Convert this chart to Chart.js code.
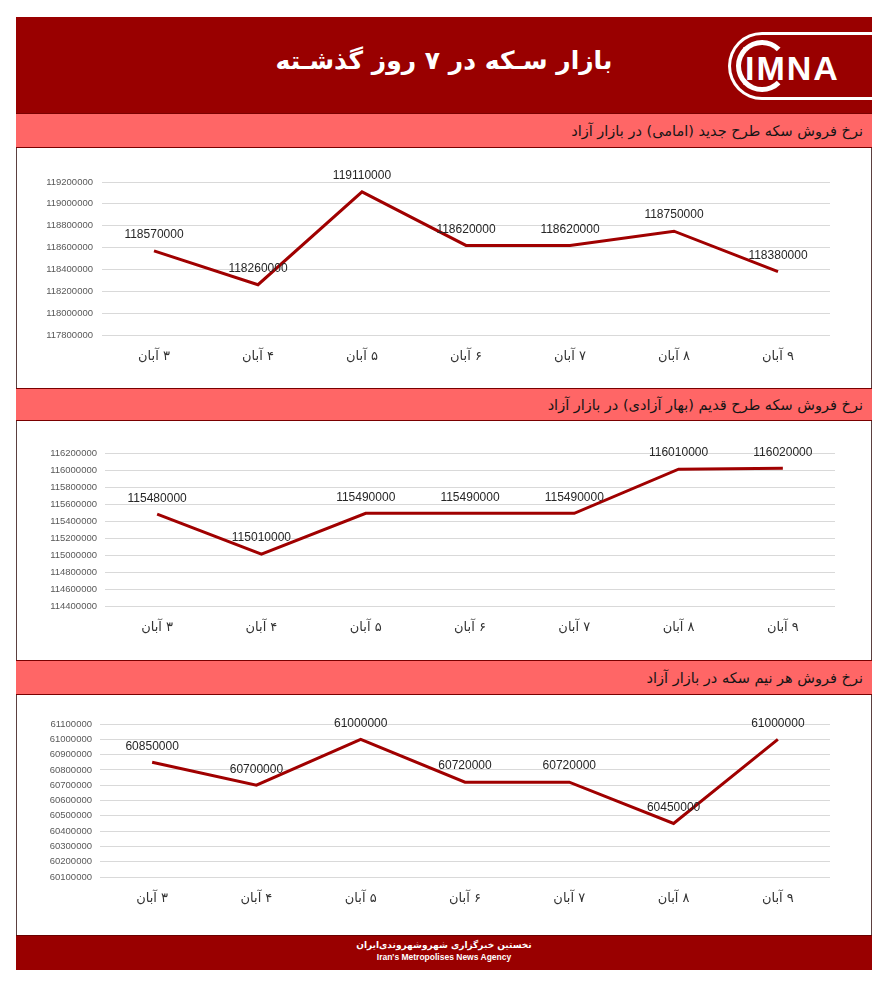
<!DOCTYPE html>
<html lang="fa">
<head>
<meta charset="utf-8">
<title>بازار سکه در ۷ روز گذشته</title>
<script src="https://cdn.jsdelivr.net/npm/chart.js@4/dist/chart.umd.min.js"></script>
<style>
    body { margin: 0; background: #fff; width: 888px; height: 1000px; position: relative; overflow: hidden; font-family: "DejaVu Sans", sans-serif; }
    .box { position: absolute; left: 16px; width: 856px; box-sizing: border-box; }
    .header { top: 17px; height: 96px; background: #990000; }
    .title { position: absolute; left: 0; width: 888px; top: 46px; text-align: center; color: #fff; font-weight: bold; font-size: 25px; direction: rtl; }
    .band { background: #ff6666; border-top: 1px solid #7a0000; border-bottom: 1px solid #7a0000; direction: rtl; font-size: 14.5px; color: #151515; padding-right: 9px; display: flex; align-items: center; }
    .panel { background: #fff; border-left: 1px solid #5b4040; border-right: 1px solid #5b4040; }
    .footer { top: 935px; height: 35px; background: #990000; border-top: 1px solid #6a0000; color: #fff; text-align: center; font-weight: bold; }
    canvas { position: absolute; left: 17px; direction: rtl; }
    .logo { position: absolute; left: 728px; top: 32px; width: 144px; height: 68px; box-sizing: border-box; border: 3px solid #fff; border-right: none; border-radius: 34px 0 0 34px; }
    .logo .ring { position: absolute; left: 5px; top: 5px; width: 52px; height: 52px; border-radius: 50%; box-sizing: border-box; border: 5px solid #fff; border-right-color: transparent; }
    .logo .txt { position: absolute; left: 14px; top: 14px; font-family: "Liberation Sans", sans-serif; font-weight: bold; font-size: 34px; line-height: 38px; color: #fff; letter-spacing: 2px; }
</style>
</head>
<body>
<div class="box header"></div>
<div class="title">بازار سـکه در ۷ روز گذشـته</div>
<div class="logo"><div class="ring"></div><div class="txt">IMNA</div></div>

<div class="box band" style="top:113px;height:35px;">نرخ فروش سکه طرح جدید (امامی) در بازار آزاد</div>
<div class="box panel" style="top:148px;height:240px;"></div>
<div class="box band" style="top:388px;height:33px;">نرخ فروش سکه طرح قدیم (بهار آزادی) در بازار آزاد</div>
<div class="box panel" style="top:421px;height:239px;"></div>
<div class="box band" style="top:660px;height:35px;">نرخ فروش هر نیم سکه در بازار آزاد</div>
<div class="box panel" style="top:695px;height:240px;"></div>
<div class="box footer">
    <div style="font-size:9px;margin-top:4px;direction:rtl;">نخستین خبرگزاری شهروشهروندی‌ایران</div>
    <div style="font-size:8.5px;font-family:'Liberation Sans',sans-serif;margin-top:2px;">Iran's Metropolises News Agency</div>
</div>

<canvas id="c1" width="854" height="240" style="top:148px"></canvas>
<canvas id="c2" width="854" height="239" style="top:421px"></canvas>
<canvas id="c3" width="854" height="240" style="top:695px"></canvas>

<script>
const days = ['۳ آبان', '۴ آبان', '۵ آبان', '۶ آبان', '۷ آبان', '۸ آبان', '۹ آبان'];

// prices (rial)
const emamiPrice = [118570000, 118260000, 119110000, 118620000, 118620000, 118750000, 118380000];
const baharPrice = [115480000, 115010000, 115490000, 115490000, 115490000, 116010000, 116020000];
const halfPrice  = [60850000, 60700000, 61000000, 60720000, 60720000, 60450000, 61000000];

// y axis: min, max, step
const emamiTicks = [117800000, 119200000, 200000];
const baharTicks = [114400000, 116200000, 200000];
const halfTicks  = [60100000, 61100000, 100000];

// draw value above each point
const valueLabels = {
    id: 'valueLabels',
    afterDatasetsDraw(chart) {
        const ctx = chart.ctx;
        const meta = chart.getDatasetMeta(0);
        ctx.save();
        ctx.font = '12px "Liberation Sans", sans-serif';
        ctx.fillStyle = '#262626';
        ctx.textAlign = 'center';
        ctx.textBaseline = 'middle';
        meta.data.forEach((pt, i) => {
            ctx.fillText(String(chart.data.datasets[0].data[i]), pt.x, pt.y - 16);
        });
        ctx.restore();
    }
};

function makeChart(id, values, ticks, box) {
    const canvas = document.getElementById(id);
    return new Chart(canvas.getContext('2d'), {
        type: 'line',
        data: {
            labels: days,
            datasets: [{
                data: values,
                borderColor: '#a00000',
                borderWidth: 3,
                pointRadius: 0,
                tension: 0
            }]
        },
        options: {
            responsive: false,
            animation: false,
            layout: { padding: { top: box.top, right: canvas.width - box.right, left: 0, bottom: 0 } },
            plugins: { legend: { display: false }, tooltip: { enabled: false } },
            scales: {
                x: {
                    offset: true,
                    grid: { display: false, drawTicks: false },
                    border: { display: false },
                    ticks: { color: '#333', font: { family: 'DejaVu Sans', size: 13 }, padding: box.xPad, maxRotation: 0, autoSkip: false },
                    afterFit: s => { s.height = canvas.height - box.bottom; }
                },
                y: {
                    min: ticks[0],
                    max: ticks[1],
                    grid: { color: '#d9d9d9', lineWidth: 1, drawTicks: false },
                    border: { display: false },
                    ticks: {
                        stepSize: ticks[2],
                        color: '#595959',
                        font: { family: 'Liberation Sans', size: 9.5 },
                        padding: box.yPad,
                        callback: v => String(v)
                    },
                    afterFit: s => { s.width = box.left; }
                }
            }
        },
        plugins: [valueLabels]
    });
}

makeChart('c1', emamiPrice, emamiTicks, { left: 85, right: 813, top: 34, bottom: 187, xPad: 14, yPad: 9 });
makeChart('c2', baharPrice, baharTicks, { left: 88, right: 818, top: 32, bottom: 185, xPad: 14, yPad: 8 });
makeChart('c3', halfPrice, halfTicks, { left: 83, right: 813, top: 29, bottom: 182, xPad: 14, yPad: 8 });
</script>
</body>
</html>
